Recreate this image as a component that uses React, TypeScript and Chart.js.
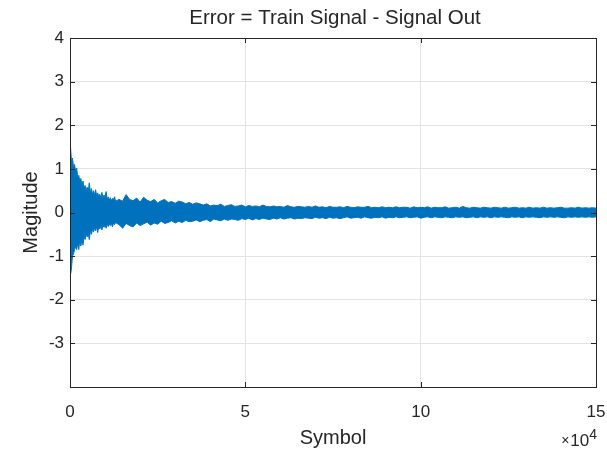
import React, { useEffect, useRef } from "react";
import { Chart, registerables } from "chart.js";

Chart.register(...registerables);

// Symbol index (x) at which the signal envelope was read
const symbols = [
  0, 150, 400, 700, 1000, 1300, 1600, 1900, 2200, 2500, 2800, 3100, 3400, 3700, 4000, 4300, 4600, 4900,
  5200, 5500, 5800, 6100, 6400, 6700, 7000, 7300, 7600, 7900, 8200, 8500, 8800, 9100, 9400, 9700, 10000,
  10300, 10600, 10900, 11200, 11500, 11800, 12100, 12400, 12700, 13000,
  14000, 15000, 16000, 17000, 18000, 19000, 20000, 21000, 22000, 23000, 24000, 25000, 26000, 27000,
  28000, 29000, 30000, 31000, 32000, 33000, 34000, 35000, 36000, 37000,
  38000, 39000, 40000, 41000, 42000, 43000, 44000, 45000, 46000, 47000,
  48000, 49000, 50000, 51000, 52000, 53000, 54000, 55000, 56000, 57000,
  58000, 59000, 60000, 61000, 62000, 63000, 64000, 65000, 66000, 67000,
  68000, 69000, 70000, 71000, 72000, 73000, 74000, 75000, 76000, 77000,
  78000, 79000, 80000, 81000, 82000, 83000, 84000, 85000, 86000, 87000,
  88000, 89000, 90000, 91000, 92000, 93000, 94000, 95000, 96000, 97000,
  98000, 99000, 100000, 101000, 102000, 103000, 104000, 105000, 106000, 107000,
  108000, 109000, 110000, 111000, 112000, 113000, 114000, 115000, 116000, 117000,
  118000, 119000, 120000, 121000, 122000, 123000, 124000, 125000, 126000, 127000,
  128000, 129000, 130000, 131000, 132000, 133000, 134000, 135000, 136000, 137000,
  138000, 139000, 140000, 141000, 142000, 143000, 144000, 145000, 146000, 147000,
  148000, 149000, 150000,
];

// Upper peaks of the error signal
const upperEnv = [
  1.55, 1.5, 1.2, 1.25, 1.05, 1.1, 0.95, 1.02, 0.8, 0.85, 0.72, 0.78, 0.6, 0.72, 0.55, 0.62, 0.5, 0.58,
  0.48, 0.68, 0.45, 0.55, 0.42, 0.5, 0.4, 0.52, 0.38, 0.45, 0.36, 0.42, 0.34, 0.46, 0.32, 0.4, 0.35,
  0.48, 0.3, 0.36, 0.28, 0.34, 0.27, 0.32, 0.3, 0.36, 0.26,
  0.3, 0.26, 0.41, 0.3, 0.27, 0.33, 0.24, 0.35, 0.28, 0.25, 0.3, 0.22, 0.27, 0.3,
  0.23, 0.25, 0.21, 0.26, 0.24, 0.2, 0.23, 0.19, 0.22, 0.2,
  0.17, 0.2, 0.15, 0.17, 0.16, 0.19, 0.14, 0.16, 0.18, 0.14,
  0.15, 0.17, 0.13, 0.16, 0.14, 0.15, 0.13, 0.17, 0.14, 0.13,
  0.15, 0.13, 0.14, 0.12, 0.16, 0.13, 0.12, 0.14, 0.13, 0.12,
  0.14, 0.12, 0.15, 0.12, 0.13, 0.11, 0.14, 0.12, 0.12, 0.13,
  0.11, 0.14, 0.12, 0.11, 0.13, 0.12, 0.12, 0.14, 0.11, 0.12,
  0.11, 0.13, 0.11, 0.12, 0.11, 0.13, 0.11, 0.12, 0.12, 0.1,
  0.13, 0.11, 0.12, 0.11, 0.13, 0.1, 0.12, 0.11, 0.11, 0.13,
  0.1, 0.11, 0.12, 0.1, 0.14, 0.11, 0.1, 0.12, 0.11, 0.1,
  0.12, 0.11, 0.1, 0.12, 0.11, 0.1, 0.12, 0.1, 0.11, 0.12,
  0.1, 0.11, 0.1, 0.12, 0.1, 0.11, 0.1, 0.12, 0.1, 0.11,
  0.1, 0.11, 0.12, 0.1, 0.1, 0.11, 0.1, 0.12, 0.1, 0.11,
  0.1, 0.11, 0.1,
];

// Lower peaks of the error signal
const lowerEnv = [
  -1.0, -1.42, -1.3, -1.0, -0.95, -0.85, -0.78, -0.85, -0.7, -0.85, -0.62, -0.77, -0.6, -0.75, -0.55, -0.62, -0.5, -0.56,
  -0.48, -0.62, -0.42, -0.5, -0.38, -0.45, -0.35, -0.42, -0.33, -0.46, -0.32, -0.38, -0.3, -0.4, -0.3, -0.34, -0.28,
  -0.36, -0.27, -0.32, -0.26, -0.3, -0.25, -0.33, -0.24, -0.28, -0.23,
  -0.28, -0.36, -0.25, -0.3, -0.33, -0.24, -0.3, -0.26, -0.22, -0.29, -0.24, -0.27, -0.2, -0.25,
  -0.23, -0.19, -0.24, -0.2, -0.23, -0.18, -0.21, -0.2, -0.17, -0.21,
  -0.18, -0.16, -0.21, -0.15, -0.17, -0.19, -0.15, -0.18, -0.15, -0.16,
  -0.18, -0.14, -0.16, -0.13, -0.17, -0.14, -0.16, -0.13, -0.15, -0.16,
  -0.13, -0.15, -0.12, -0.15, -0.13, -0.12, -0.15, -0.13, -0.14, -0.12,
  -0.13, -0.14, -0.11, -0.13, -0.12, -0.14, -0.11, -0.13, -0.12, -0.14,
  -0.12, -0.1, -0.13, -0.12, -0.11, -0.13, -0.1, -0.12, -0.13, -0.11,
  -0.12, -0.1, -0.13, -0.11, -0.12, -0.1, -0.12, -0.11, -0.1, -0.12,
  -0.11, -0.1, -0.13, -0.11, -0.1, -0.12, -0.1, -0.11, -0.12, -0.1,
  -0.11, -0.12, -0.1, -0.11, -0.1, -0.12, -0.11, -0.1, -0.12, -0.1,
  -0.11, -0.1, -0.12, -0.1, -0.11, -0.1, -0.11, -0.12, -0.1, -0.11,
  -0.1, -0.12, -0.1, -0.11, -0.1, -0.11, -0.12, -0.1, -0.11, -0.1,
  -0.11, -0.1, -0.11, -0.12, -0.1, -0.11, -0.1, -0.11, -0.1, -0.11,
  -0.1, -0.11, -0.1,
];

const xTicks = [0, 50000, 100000, 150000];
const yTicks = [-4, -3, -2, -1, 0, 1, 2, 3, 4];

const titleText = "Error = Train Signal - Signal Out";
const xLabel = "Symbol";
const yLabel = "Magitude";
const xExponent = "4";

const FONT = "'Liberation Sans', Arial, Helvetica, sans-serif";
const TEXT = "#262626";
const BLUE = "#0072BD";

const framePlugin = {
  id: "matlabFrame",
  afterDatasetsDraw(chart: any) {
    const { ctx, chartArea } = chart;
    const { left, right, top, bottom } = chartArea;
    const xs = chart.scales.x;
    const ys = chart.scales.y;
    ctx.save();
    ctx.strokeStyle = TEXT;
    ctx.lineWidth = 1;
    ctx.beginPath();
    const tl = 5;
    xTicks.forEach((v) => {
      const px = Math.round(xs.getPixelForValue(v)) + 0.5;
      ctx.moveTo(px, bottom);
      ctx.lineTo(px, bottom - tl);
      ctx.moveTo(px, top);
      ctx.lineTo(px, top + tl);
    });
    yTicks.forEach((v) => {
      const py = Math.round(ys.getPixelForValue(v)) + 0.5;
      ctx.moveTo(left, py);
      ctx.lineTo(left + tl, py);
      ctx.moveTo(right, py);
      ctx.lineTo(right - tl, py);
    });
    ctx.stroke();
    ctx.strokeRect(Math.round(left) + 0.5, Math.round(top) + 0.5, Math.round(right - left), Math.round(bottom - top));

    const cx = (left + right) / 2;
    ctx.fillStyle = TEXT;
    ctx.textAlign = "center";
    ctx.textBaseline = "middle";
    ctx.font = `20.5px ${FONT}`;
    ctx.fillText(titleText, cx + 2, 18);
    ctx.font = `20px ${FONT}`;
    ctx.fillText(xLabel, cx, 438);
    ctx.save();
    ctx.translate(31, (top + bottom) / 2);
    ctx.rotate(-Math.PI / 2);
    ctx.fillText(yLabel, 0, 0);
    ctx.restore();
    // exponent label
    ctx.textAlign = "right";
    ctx.textBaseline = "alphabetic";
    ctx.font = `14px ${FONT}`;
    ctx.fillText(xExponent, right + 1, 439);
    const w4 = ctx.measureText(xExponent).width;
    ctx.font = `17px ${FONT}`;
    ctx.fillText("10", right + 1 - w4, 446);
    const w10 = ctx.measureText("10").width;
    ctx.font = `14px ${FONT}`;
    ctx.fillText("×", right - w4 - w10, 445);
    ctx.restore();
  },
};

export default function App() {
  const ref = useRef<HTMLCanvasElement | null>(null);
  useEffect(() => {
    if (!ref.current) return;
    const upper = symbols.map((s, i) => ({ x: s, y: upperEnv[i] }));
    const lower = symbols.map((s, i) => ({ x: s, y: lowerEnv[i] }));
    const chart = new Chart(ref.current, {
      type: "line",
      data: {
        datasets: [
          {
            label: "Error (upper)",
            data: upper,
            borderColor: BLUE,
            backgroundColor: BLUE,
            borderWidth: 1,
            pointRadius: 0,
            tension: 0,
            fill: "+1",
          },
          {
            label: "Error (lower)",
            data: lower,
            borderColor: BLUE,
            backgroundColor: BLUE,
            borderWidth: 1,
            pointRadius: 0,
            tension: 0,
            fill: false,
          },
        ],
      },
      options: {
        animation: false,
        responsive: true,
        maintainAspectRatio: false,
        layout: { padding: { top: 38, right: 11, left: 0, bottom: 0 } },
        plugins: {
          legend: { display: false },
          tooltip: { enabled: false },
          title: { display: false },
        },
        scales: {
          x: {
            type: "linear",
            min: 0,
            max: 150000,
            afterBuildTicks: (s: any) => {
              s.ticks = xTicks.map((v) => ({ value: v }));
            },
            afterFit: (s: any) => {
              s.height = 63;
              s.paddingLeft = 0;
              s.paddingRight = 0;
            },
            ticks: {
              autoSkip: false,
              maxRotation: 0,
              padding: 15,
              color: TEXT,
              font: { family: FONT, size: 17 },
              callback: (v: any) => String(Number(v) / 10000),
            },
            grid: { color: "#e3e3e3", drawTicks: false },
            border: { display: false },
          },
          y: {
            type: "linear",
            min: -4,
            max: 4,
            afterBuildTicks: (s: any) => {
              s.ticks = yTicks.map((v) => ({ value: v }));
            },
            afterFit: (s: any) => {
              s.width = 70;
              s.paddingTop = 0;
              s.paddingBottom = 0;
            },
            ticks: {
              autoSkip: false,
              padding: 6,
              color: TEXT,
              font: { family: FONT, size: 17 },
              callback: (v: any) => (Number(v) === -4 ? "" : String(v)),
            },
            grid: { color: "#e3e3e3", drawTicks: false },
            border: { display: false },
          },
        },
      },
      plugins: [framePlugin],
    });
    return () => chart.destroy();
  }, []);
  return (
    <div style={{ position: "absolute", left: 0, top: 0, width: 607, height: 450, background: "#fff" }}>
      <canvas ref={ref} />
    </div>
  );
}
